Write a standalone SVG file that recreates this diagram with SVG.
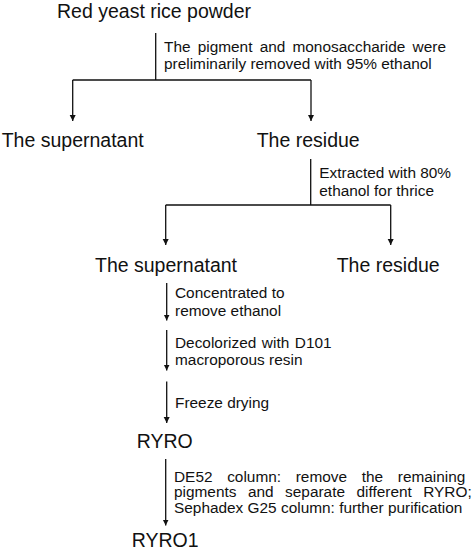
<svg xmlns="http://www.w3.org/2000/svg" width="474" height="552" viewBox="0 0 474 552">
<defs>
<marker id="ah" markerUnits="userSpaceOnUse" markerWidth="7" markerHeight="7" refX="6" refY="3" orient="auto">
<path d="M0,0 L6,3 L0,6 z" fill="#111"/>
</marker>
<style>
.n{font-family:"Liberation Sans",Arial,sans-serif;font-size:19.5px;fill:#111}
.l{font-family:"Liberation Sans",Arial,sans-serif;font-size:15.4px;fill:#111}
.c{fill:none;stroke:#111;stroke-width:1.3}
.a{fill:none;stroke:#111;stroke-width:1.3;marker-end:url(#ah)}
</style>
</defs>
<rect width="474" height="552" fill="#fff"/>
<g id="connectors">
<path class="c" d="M155.7,33 V80 M72.7,80 H311"/>
<path class="a" d="M72.7,80 V121"/>
<path class="a" d="M311,80 V121"/>
<path class="c" d="M310.7,159 V205 M165.7,205 H390.7"/>
<path class="a" d="M165.7,205 V245"/>
<path class="a" d="M390.7,205 V245"/>
<path class="a" d="M166.7,283 V320.5"/>
<path class="a" d="M166.7,330 V370.5"/>
<path class="a" d="M166.7,381.5 V423"/>
<path class="a" d="M165.7,459 V525.5"/>
</g>
<g id="labels">
<text class="l" x="164" y="51.7" word-spacing="2.9">The pigment and monosaccharide were</text>
<text class="l" x="164" y="68.5">preliminarily removed with 95% ethanol</text>
<text class="l" x="319.3" y="177.7">Extracted with 80%</text>
<text class="l" x="319.3" y="195.7">ethanol for thrice</text>
<text class="l" x="175" y="298.3">Concentrated to</text>
<text class="l" x="175" y="315.7">remove ethanol</text>
<text class="l" x="175" y="347.7" word-spacing="1.3">Decolorized with D101</text>
<text class="l" x="175" y="365">macroporous resin</text>
<text class="l" x="175" y="408.3">Freeze drying</text>
<text class="l" x="174" y="481.7" word-spacing="10.4">DE52 column: remove the remaining</text>
<text class="l" x="174" y="497" word-spacing="7.2">pigments and separate different RYRO;</text>
<text class="l" x="174" y="513">Sephadex G25 column: further purification</text>
</g>
<g id="n1"><text class="n" x="57" y="18">Red yeast rice powder</text></g>
<g id="n2"><text class="n" x="1.7" y="146.7">The supernatant</text></g>
<g id="n3"><text class="n" x="256.7" y="146.7">The residue</text></g>
<g id="n4"><text class="n" x="95" y="271.7">The supernatant</text></g>
<g id="n5"><text class="n" x="336.7" y="271.7">The residue</text></g>
<g id="n6"><text class="n" x="136.7" y="448.3">RYRO</text></g>
<g id="n7"><text class="n" x="131.7" y="547">RYRO1</text></g>
</svg>
